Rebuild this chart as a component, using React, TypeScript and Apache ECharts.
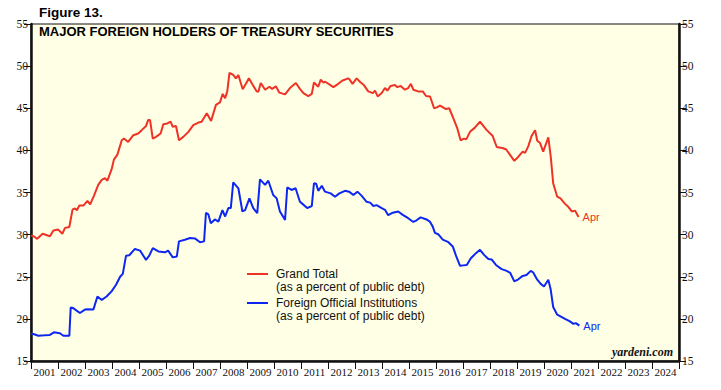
import React, { useEffect, useRef } from "react";
import * as echarts from "echarts";

// Tick labels
const yearLabels = [
  "2001", "2002", "2003", "2004", "2005", "2006", "2007", "2008",
  "2009", "2010", "2011", "2012", "2013", "2014", "2015", "2016",
  "2017", "2018", "2019", "2020", "2021", "2022", "2023", "2024",
];

// Grand Total (as a percent of public debt): [decimal year, percent]
const grandTotal: [number, number][] = [
  [2001.0, 29.9], [2001.1, 29.8], [2001.23, 29.5], [2001.43, 30.1], [2001.7, 29.8], [2001.83, 30.5],
  [2002.01, 30.6], [2002.16, 30.1], [2002.26, 30.8], [2002.42, 30.9], [2002.54, 33.0], [2002.63, 33.1],
  [2002.7, 32.9], [2002.79, 33.45], [2002.94, 33.45], [2003.09, 34.0], [2003.19, 33.6], [2003.33, 34.6],
  [2003.49, 35.9], [2003.62, 36.5], [2003.74, 36.7], [2003.83, 36.4], [2003.99, 37.8], [2004.07, 38.9],
  [2004.2, 39.5], [2004.36, 41.2], [2004.44, 41.4], [2004.6, 41.0], [2004.79, 41.8], [2004.97, 42.0],
  [2005.1, 42.4], [2005.26, 42.9], [2005.34, 43.6], [2005.41, 43.6], [2005.51, 41.4], [2005.63, 41.6],
  [2005.8, 42.0], [2005.9, 43.1], [2006.05, 43.2], [2006.17, 43.4], [2006.25, 42.8], [2006.37, 42.9],
  [2006.48, 41.2], [2006.64, 41.6], [2006.83, 42.2], [2007.01, 43.0], [2007.2, 43.3], [2007.32, 43.4],
  [2007.51, 44.4], [2007.67, 43.5], [2007.85, 45.4], [2008.0, 45.7], [2008.1, 46.7], [2008.19, 46.2],
  [2008.27, 47.0], [2008.35, 49.2], [2008.49, 48.95], [2008.59, 48.55], [2008.68, 48.95], [2008.84, 47.25],
  [2008.96, 47.9], [2009.07, 48.55], [2009.21, 47.8], [2009.36, 47.0], [2009.42, 46.95], [2009.51, 48.0],
  [2009.67, 47.2], [2009.83, 47.55], [2009.93, 47.3], [2010.07, 47.6], [2010.2, 46.85], [2010.41, 46.65],
  [2010.59, 47.4], [2010.81, 48.0], [2010.96, 47.3], [2011.09, 46.8], [2011.27, 46.45], [2011.4, 46.7],
  [2011.48, 48.05], [2011.64, 47.55], [2011.73, 48.4], [2011.83, 48.05], [2011.9, 48.15], [2012.2, 47.5],
  [2012.38, 47.9], [2012.54, 48.3], [2012.75, 48.55], [2012.8, 48.4], [2012.91, 47.9], [2013.06, 48.55],
  [2013.21, 48.05], [2013.33, 47.75], [2013.49, 47.0], [2013.66, 46.8], [2013.74, 47.1], [2013.84, 46.4],
  [2013.99, 46.8], [2014.11, 47.4], [2014.2, 47.1], [2014.32, 47.65], [2014.48, 47.75], [2014.57, 47.5],
  [2014.69, 47.65], [2014.85, 47.2], [2014.97, 47.4], [2015.07, 47.9], [2015.16, 47.2], [2015.34, 47.0],
  [2015.51, 47.0], [2015.63, 46.45], [2015.78, 46.4], [2015.93, 45.0], [2016.03, 45.1], [2016.15, 45.3],
  [2016.37, 44.9], [2016.49, 45.0], [2016.67, 43.6], [2016.79, 42.6], [2016.91, 41.2], [2017.04, 41.4],
  [2017.12, 41.3], [2017.26, 42.2], [2017.44, 42.7], [2017.63, 43.4], [2017.73, 43.0], [2017.88, 42.4],
  [2018.1, 41.7], [2018.25, 40.4], [2018.49, 40.25], [2018.6, 40.1], [2018.9, 38.75], [2019.05, 39.25],
  [2019.21, 39.85], [2019.3, 39.7], [2019.42, 40.5], [2019.54, 41.7], [2019.67, 42.4], [2019.75, 41.15],
  [2019.85, 40.9], [2019.97, 39.85], [2020.16, 41.55], [2020.25, 39.25], [2020.34, 36.1], [2020.49, 34.5],
  [2020.61, 34.3], [2020.78, 33.65], [2020.9, 33.3], [2021.03, 32.75], [2021.15, 32.85], [2021.28, 32.1],
];

// Foreign Official Institutions (as a percent of public debt): [decimal year, percent]
const foreignOfficial: [number, number][] = [
  [2001.0, 18.2], [2001.09, 18.2], [2001.27, 18.0], [2001.5, 18.05], [2001.7, 18.1], [2001.85, 18.4],
  [2002.07, 18.3], [2002.2, 18.0], [2002.42, 18.0], [2002.47, 21.35], [2002.55, 21.3], [2002.81, 20.7],
  [2003.0, 21.1], [2003.1, 21.15], [2003.31, 21.1], [2003.46, 22.65], [2003.62, 22.25], [2003.8, 22.65],
  [2003.99, 23.3], [2004.15, 24.05], [2004.3, 25.0], [2004.4, 25.35], [2004.52, 27.5], [2004.64, 27.55],
  [2004.85, 28.3], [2005.04, 28.1], [2005.26, 27.0], [2005.38, 27.5], [2005.51, 28.4], [2005.72, 28.0],
  [2005.96, 27.9], [2006.08, 28.1], [2006.25, 27.3], [2006.4, 27.4], [2006.48, 29.2], [2006.7, 29.4],
  [2006.89, 29.6], [2007.07, 29.55], [2007.26, 29.1], [2007.41, 29.2], [2007.48, 32.6], [2007.57, 32.4],
  [2007.66, 31.35], [2007.81, 31.8], [2007.94, 31.55], [2008.09, 32.9], [2008.19, 32.15], [2008.31, 33.15],
  [2008.4, 33.15], [2008.49, 36.2], [2008.68, 35.5], [2008.83, 32.75], [2008.93, 32.9], [2009.09, 34.3],
  [2009.23, 33.15], [2009.38, 32.55], [2009.48, 36.55], [2009.67, 35.9], [2009.79, 36.4], [2009.97, 34.7],
  [2010.1, 34.3], [2010.22, 32.75], [2010.41, 31.75], [2010.49, 35.6], [2010.65, 35.3], [2010.8, 35.5],
  [2010.96, 33.9], [2011.11, 33.5], [2011.23, 33.15], [2011.4, 33.4], [2011.48, 36.1], [2011.56, 36.05],
  [2011.64, 35.2], [2011.77, 35.8], [2011.89, 35.1], [2012.1, 34.9], [2012.26, 34.5], [2012.42, 34.9],
  [2012.63, 35.2], [2012.78, 35.1], [2012.94, 34.7], [2013.09, 35.1], [2013.25, 34.6], [2013.43, 33.9],
  [2013.56, 33.8], [2013.68, 33.4], [2013.8, 33.5], [2013.99, 33.15], [2014.11, 32.95], [2014.23, 32.3],
  [2014.4, 32.6], [2014.6, 32.75], [2014.77, 32.35], [2014.97, 31.95], [2015.16, 31.5], [2015.28, 31.7],
  [2015.43, 32.05], [2015.65, 31.8], [2015.77, 31.55], [2015.88, 30.95], [2015.96, 30.2], [2016.08, 30.05],
  [2016.25, 29.4], [2016.46, 29.1], [2016.62, 28.6], [2016.74, 27.5], [2016.89, 26.3], [2017.01, 26.35],
  [2017.14, 26.4], [2017.29, 27.2], [2017.48, 27.8], [2017.63, 28.2], [2017.78, 27.6], [2017.94, 27.1],
  [2018.06, 27.05], [2018.22, 26.4], [2018.43, 25.9], [2018.62, 25.7], [2018.75, 25.45], [2018.9, 24.45],
  [2019.05, 24.7], [2019.21, 25.1], [2019.35, 25.2], [2019.51, 25.7], [2019.6, 25.5], [2019.75, 24.65],
  [2019.88, 24.15], [2020.0, 23.85], [2020.16, 24.65], [2020.25, 23.45], [2020.34, 21.4], [2020.49, 20.5],
  [2020.61, 20.3], [2020.78, 20.0], [2020.96, 19.7], [2021.09, 19.4], [2021.18, 19.5], [2021.31, 19.2],
];

const RED = "#EE3326";
const BLUE = "#0D26F2";
const SERIF = "Liberation Serif";
const SANS = "Liberation Sans";

export default function App() {
  const ref = useRef<HTMLDivElement>(null);

  useEffect(() => {
    if (!ref.current) return;
    const chart = echarts.init(ref.current, null, { renderer: "svg" });

    const yAxisCommon = {
      type: "value",
      min: 15,
      max: 55,
      interval: 5,
      splitLine: { show: false },
      axisLine: { show: true, lineStyle: { color: "#111", width: 2.5 } },
      axisTick: { show: true, length: 7, lineStyle: { color: "#111", width: 1 } },
      axisLabel: { color: "#111", fontFamily: SERIF, fontSize: 11.5, margin: 3 },
    };

    chart.setOption({
      animation: false,
      backgroundColor: "#ffffff",
      grid: {
        left: 31,
        right: 42,
        top: 24,
        bottom: 29,
        show: true,
        backgroundColor: "#FFFFE6",
        borderColor: "#111",
        borderWidth: 1,
      },
      xAxis: [
        {
          type: "category",
          data: yearLabels,
          boundaryGap: true,
          position: "bottom",
          axisLine: { show: true, lineStyle: { color: "#111", width: 2.5 } },
          axisTick: { show: true, length: 8, inside: false, lineStyle: { color: "#111", width: 1 } },
          axisLabel: { color: "#111", fontFamily: SERIF, fontSize: 11, margin: 5, interval: 0 },
          splitLine: { show: false },
        },
        {
          type: "value",
          min: 2001,
          max: 2025,
          show: false,
        },
      ],
      yAxis: [
        { ...yAxisCommon, position: "left" },
        { ...yAxisCommon, position: "right" },
      ],
      series: [
        {
          name: "Grand Total",
          type: "line",
          xAxisIndex: 1,
          yAxisIndex: 0,
          data: grandTotal,
          showSymbol: false,
          symbol: "none",
          lineStyle: { color: RED, width: 2 },
          itemStyle: { color: RED },
          endLabel: {
            show: true,
            formatter: "Apr",
            color: RED,
            fontFamily: SANS,
            fontSize: 11,
            distance: 4,
          },
        },
        {
          name: "Foreign Official Institutions",
          type: "line",
          xAxisIndex: 1,
          yAxisIndex: 0,
          data: foreignOfficial,
          showSymbol: false,
          symbol: "none",
          lineStyle: { color: BLUE, width: 2 },
          itemStyle: { color: BLUE },
          endLabel: {
            show: true,
            formatter: "Apr",
            color: BLUE,
            fontFamily: SANS,
            fontSize: 11,
            distance: 4,
          },
        },
      ],
      graphic: [
        {
          type: "text",
          left: 39,
          top: 5,
          style: { text: "Figure 13.", font: `bold 13.5px "${SANS}"`, fill: "#000" },
        },
        {
          type: "text",
          left: 39,
          top: 25,
          style: {
            text: "MAJOR FOREIGN HOLDERS OF TREASURY SECURITIES",
            font: `bold 13px "${SANS}"`,
            fill: "#000",
          },
        },
        {
          type: "line",
          shape: { x1: 247, y1: 274, x2: 268, y2: 274 },
          style: { stroke: RED, lineWidth: 2 },
        },
        {
          type: "text",
          left: 276,
          top: 268,
          style: {
            text: "Grand Total\n(as a percent of public debt)",
            font: `12px "${SANS}"`,
            lineHeight: 12.5,
            fill: "#111",
          },
        },
        {
          type: "line",
          shape: { x1: 247, y1: 303, x2: 268, y2: 303 },
          style: { stroke: BLUE, lineWidth: 2 },
        },
        {
          type: "text",
          left: 276,
          top: 297,
          style: {
            text: "Foreign Official Institutions\n(as a percent of public debt)",
            font: `12px "${SANS}"`,
            lineHeight: 12.5,
            fill: "#111",
          },
        },
        {
          type: "text",
          right: 48,
          top: 346,
          style: {
            text: "yardeni.com",
            font: `italic bold 12px "${SERIF}"`,
            fill: "#111",
          },
        },
      ],
    });

    return () => chart.dispose();
  }, []);

  return (
    <div
      ref={ref}
      style={{ position: "fixed", left: 0, top: 0, width: 721, height: 390 }}
    />
  );
}
